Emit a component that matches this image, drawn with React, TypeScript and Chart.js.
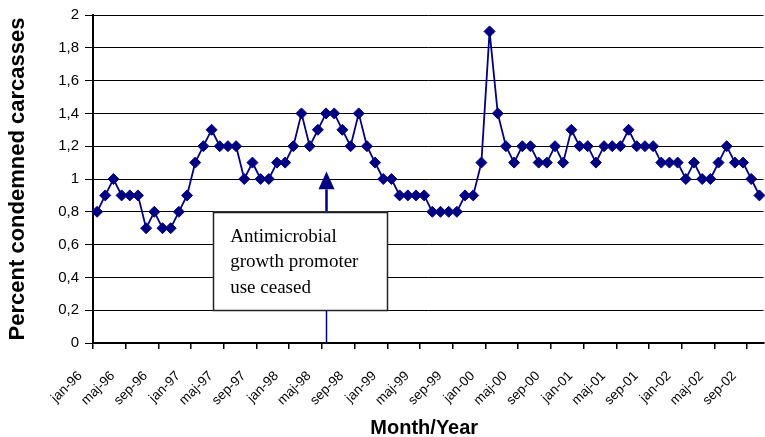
import React, { useEffect, useRef } from 'react';
import { Chart, registerables } from 'chart.js';

Chart.register(...registerables);

// Danish month abbreviations and years used for the category labels
const monthNames = ['jan', 'feb', 'mar', 'apr', 'maj', 'jun', 'jul', 'aug', 'sep', 'okt', 'nov', 'dec'];
const years = ['96', '97', '98', '99', '00', '01', '02'];
const monthCount = 82; // jan-96 .. okt-02

const categories: string[] = [];
for (let y = 0; y < years.length; y++) {
  for (let m = 0; m < 12; m++) {
    if (categories.length < monthCount) categories.push(`${monthNames[m]}-${years[y]}`);
  }
}

// Percent condemned carcasses per month
const percentCondemned = [
  0.8, 0.9, 1.0, 0.9, 0.9, 0.9, 0.7, 0.8, 0.7, 0.7, 0.8, 0.9,
  1.1, 1.2, 1.3, 1.2, 1.2, 1.2, 1.0, 1.1, 1.0, 1.0, 1.1, 1.1,
  1.2, 1.4, 1.2, 1.3, 1.4, 1.4, 1.3, 1.2, 1.4, 1.2, 1.1, 1.0,
  1.0, 0.9, 0.9, 0.9, 0.9, 0.8, 0.8, 0.8, 0.8, 0.9, 0.9, 1.1,
  1.9, 1.4, 1.2, 1.1, 1.2, 1.2, 1.1, 1.1, 1.2, 1.1, 1.3, 1.2,
  1.2, 1.1, 1.2, 1.2, 1.2, 1.3, 1.2, 1.2, 1.2, 1.1, 1.1, 1.1,
  1.0, 1.1, 1.0, 1.0, 1.1, 1.2, 1.1, 1.1, 1.0, 0.9,
];

const yMin = 0;
const yMax = 2;
const yStep = 0.2;
const labelEvery = 4;

const yTitle = 'Percent condemned carcasses';
const xTitle = 'Month/Year';
const annotationLines = ['Antimicrobial', 'growth promoter', 'use ceased'];
const ceasedMonth = 'maj-98';

const NAVY = '#000080';

const annotationPlugin = {
  id: 'customDecor',
  afterDatasetsDraw(chart: any) {
    const { ctx, scales, chartArea } = chart;
    const xs = scales.x;
    const ys = scales.y;
    const idx = categories.indexOf(ceasedMonth);
    const ax = Math.round(xs.getPixelForValue(idx)) + 0.5;

    const boxL = xs.getPixelForValue(14.2);
    const boxR = xs.getPixelForValue(35.5);
    const boxT = ys.getPixelForValue(0.8);
    const boxB = ys.getPixelForValue(0.2);
    const tipY = ys.getPixelForValue(1.045);
    const baseY = ys.getPixelForValue(0.937);

    ctx.save();
    ctx.strokeStyle = NAVY;
    ctx.fillStyle = NAVY;
    // line below the box
    ctx.lineWidth = 1.5;
    ctx.beginPath();
    ctx.moveTo(ax, chartArea.bottom);
    ctx.lineTo(ax, boxB);
    ctx.stroke();
    // line above the box
    ctx.lineWidth = 2.5;
    ctx.beginPath();
    ctx.moveTo(ax, boxT);
    ctx.lineTo(ax, baseY);
    ctx.stroke();
    // arrowhead
    ctx.beginPath();
    ctx.moveTo(ax, tipY);
    ctx.lineTo(ax - 8, baseY);
    ctx.lineTo(ax + 8, baseY);
    ctx.closePath();
    ctx.fill();

    // box
    ctx.fillStyle = '#ffffff';
    ctx.fillRect(boxL, boxT, boxR - boxL, boxB - boxT);
    ctx.strokeStyle = '#222';
    ctx.lineWidth = 1.5;
    ctx.strokeRect(Math.round(boxL) + 0.5, Math.round(boxT) + 0.5, Math.round(boxR - boxL), Math.round(boxB - boxT));

    ctx.fillStyle = '#000';
    ctx.font = '19px "Liberation Serif", "Times New Roman", serif';
    ctx.textAlign = 'left';
    ctx.textBaseline = 'middle';
    annotationLines.forEach((t, i) => {
      ctx.fillText(t, boxL + 17, boxT + 25 + i * 25.5);
    });

    // axis titles
    ctx.font = 'bold 20px "Liberation Sans", Arial, sans-serif';
    ctx.textAlign = 'center';
    ctx.textBaseline = 'middle';
    ctx.fillText(xTitle, (chartArea.left + chartArea.right) / 2 - 4, 428);
    ctx.save();
    ctx.translate(18, (chartArea.top + chartArea.bottom) / 2);
    ctx.rotate(-Math.PI / 2);
    ctx.font = 'bold 22px "Liberation Sans", Arial, sans-serif';
    ctx.fillText(yTitle, 0, 0);
    ctx.restore();
    ctx.restore();
  },
};

export default function App() {
  const ref = useRef<HTMLCanvasElement | null>(null);

  useEffect(() => {
    if (!ref.current) return;
    const chart = new Chart(ref.current, {
      type: 'line',
      data: {
        labels: categories,
        datasets: [
          {
            data: percentCondemned,
            borderColor: NAVY,
            backgroundColor: NAVY,
            borderWidth: 1.8,
            pointStyle: 'rectRot',
            pointRadius: 5.5,
            pointBorderWidth: 1,
            pointBackgroundColor: NAVY,
            pointBorderColor: NAVY,
            tension: 0,
            clip: false,
          },
        ],
      },
      options: {
        animation: false,
        responsive: false,
        devicePixelRatio: 1,
        layout: { padding: { left: 0, top: 15, right: 3, bottom: 0 } },
        plugins: { legend: { display: false }, tooltip: { enabled: false } },
        scales: {
          x: {
            type: 'category',
            offset: true,
            border: { display: true, color: '#000', width: 2 },
            grid: {
              offset: true,
              drawOnChartArea: false,
              drawTicks: true,
              tickLength: 6,
              color: (c: any) => (c.index % labelEvery === 0 ? '#000' : 'rgba(0,0,0,0)'),
              lineWidth: 1.5,
            },
            ticks: {
              autoSkip: false,
              minRotation: 45,
              maxRotation: 45,
              padding: 19,
              labelOffset: -17,
              color: '#000',
              font: { family: '"Liberation Sans Narrow", "Liberation Sans", Arial, sans-serif', size: 13.5 },
              callback: (_v: any, i: number) => (i % labelEvery === 0 ? categories[i] : ''),
            },
            afterFit: (s: any) => {
              s.height = 94;
              s.paddingLeft = 0;
              s.paddingRight = 0;
            },
          },
          y: {
            min: yMin,
            max: yMax,
            border: { display: true, color: '#000', width: 2 },
            grid: {
              color: '#000',
              lineWidth: 1,
              drawTicks: true,
              tickLength: 8,
            },
            ticks: {
              stepSize: yStep,
              padding: 6,
              color: '#000',
              font: { family: '"Liberation Sans", Arial, sans-serif', size: 15 },
              callback: (v: any) => String(Number(Number(v).toFixed(1))).replace('.', ','),
            },
            afterFit: (s: any) => {
              s.width = 93;
              s.paddingTop = 0;
              s.paddingBottom = 0;
            },
          },
        },
      },
      plugins: [annotationPlugin],
    });
    return () => chart.destroy();
  }, []);

  return (
    <div style={{ position: 'fixed', left: 0, top: 0, width: 770, height: 437, background: '#fff' }}>
      <canvas ref={ref} width={770} height={437} style={{ display: 'block' }} />
    </div>
  );
}
